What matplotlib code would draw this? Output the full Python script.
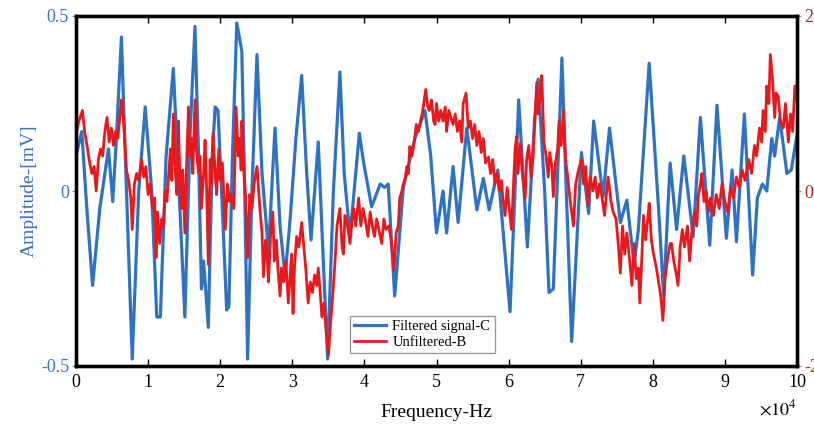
import numpy as np
import matplotlib
matplotlib.use("Agg")
import matplotlib.pyplot as plt

plt.rcParams['font.family'] = ['Liberation Serif', 'DejaVu Serif']
plt.rcParams['mathtext.fontset'] = 'stix'

# frequency in units of 1e4 Hz, amplitude in mV
blue_x = [0.0, 0.08, 0.15, 0.23, 0.33, 0.45, 0.51, 0.56, 0.63, 0.70, 0.78, 0.87, 0.96, 1.05, 1.12, 1.17,
          1.25, 1.35, 1.43, 1.51, 1.58, 1.65, 1.70, 1.74, 1.77, 1.835, 1.89, 1.93, 1.97, 2.04, 2.09, 2.12,
          2.17, 2.23, 2.30, 2.34, 2.38, 2.44, 2.51, 2.58, 2.67, 2.76, 2.83, 2.90, 2.97, 3.05, 3.13, 3.20,
          3.26, 3.36, 3.43, 3.49, 3.57, 3.66, 3.72, 3.80, 3.93, 3.99, 4.10, 4.22, 4.28, 4.33, 4.42, 4.54,
          4.70, 4.84, 4.92, 5.0, 5.09, 5.14, 5.23, 5.30, 5.42, 5.56, 5.65, 5.73, 5.85, 6.02, 6.14, 6.26,
          6.36, 6.41, 6.50, 6.56, 6.62, 6.74, 6.80, 6.875, 7.01, 7.11, 7.18, 7.31, 7.40, 7.55, 7.64, 7.74,
          7.80, 7.95, 8.08, 8.15, 8.24, 8.33, 8.43, 8.56, 8.66, 8.79, 8.89, 9.02, 9.10, 9.16, 9.27, 9.385,
          9.45, 9.52, 9.58, 9.65, 9.69, 9.76, 9.86, 9.92, 10.0]
blue_y = [0.10, 0.17, -0.05, -0.27, -0.05, 0.12, -0.03, 0.15, 0.44, 0.0, -0.48, 0.0, 0.24, 0.0, -0.36, -0.36,
          0.10, 0.35, 0.0, -0.36, 0.15, 0.47, 0.10, -0.28, -0.20, -0.39, 0.10, 0.24, 0.23, -0.10, -0.34, -0.33,
          0.10, 0.48, 0.40, 0.0, -0.48, 0.0, 0.39, 0.05, -0.17, 0.18, -0.10, -0.245, -0.08, 0.15, 0.33, 0.05,
          -0.14, 0.14, -0.20, -0.48, 0.0, 0.34, 0.05, -0.13, 0.165, 0.08, -0.045, 0.02, 0.01, 0.02, -0.30, 0.01,
          0.15, 0.23, 0.10, -0.12, 0.0, -0.12, 0.07, -0.09, 0.18, -0.054, 0.036, -0.054, 0.06, -0.345, 0.26, -0.16,
          0.20, 0.32, 0.0, -0.29, -0.28, 0.38, 0.0, -0.43, 0.11, -0.064, 0.20, -0.016, 0.18, -0.09, -0.026, -0.21,
          -0.11, 0.365, -0.05, -0.30, 0.08, -0.11, 0.10, -0.13, 0.21, -0.155, 0.245, -0.135, 0.06, -0.145, 0.22, -0.24,
          -0.02, 0.02, 0.0, 0.15, 0.10, 0.21, 0.05, 0.06, 0.16]

red_x = [0.00, 0.04, 0.09, 0.12, 0.16, 0.19, 0.22, 0.25, 0.28, 0.31, 0.34, 0.37, 0.40, 0.43, 0.46, 0.49,
         0.52, 0.55, 0.58, 0.63, 0.66, 0.70, 0.73, 0.76, 0.78, 0.81, 0.84, 0.87, 0.91, 0.94, 0.97, 1.00,
         1.03, 1.06, 1.09, 1.11, 1.13, 1.16, 1.19, 1.21, 1.24, 1.26, 1.29, 1.31, 1.33, 1.35, 1.38, 1.40,
         1.42, 1.44, 1.46, 1.48, 1.51, 1.53, 1.56, 1.58, 1.60, 1.62, 1.65, 1.67, 1.70, 1.72, 1.74, 1.77,
         1.79, 1.81, 1.835, 1.86, 1.88, 1.90, 1.93, 1.95, 1.98, 2.00, 2.03, 2.07, 2.10, 2.13, 2.15, 2.19,
         2.22, 2.25, 2.27, 2.29, 2.30, 2.33, 2.35, 2.38, 2.41, 2.44, 2.47, 2.51, 2.53, 2.55, 2.58, 2.60,
         2.63, 2.65, 2.67, 2.70, 2.73, 2.75, 2.78, 2.80, 2.83, 2.85, 2.88, 2.91, 2.945, 2.97, 2.99, 3.01,
         3.03, 3.06, 3.09, 3.13, 3.16, 3.19, 3.22, 3.25, 3.28, 3.31, 3.34, 3.36, 3.39, 3.41, 3.44, 3.47,
         3.50, 3.53, 3.56, 3.59, 3.62, 3.66, 3.69, 3.71, 3.73, 3.76, 3.80, 3.83, 3.85, 3.88, 3.92, 3.95,
         3.98, 4.01, 4.05, 4.08, 4.11, 4.14, 4.17, 4.20, 4.24, 4.27, 4.30, 4.34, 4.37, 4.41, 4.44, 4.47,
         4.49, 4.52, 4.54, 4.57, 4.59, 4.61, 4.63, 4.66, 4.69, 4.72, 4.75, 4.78, 4.81, 4.85, 4.88, 4.90,
         4.93, 4.96, 4.98, 5.00, 5.03, 5.06, 5.09, 5.12, 5.14, 5.17, 5.20, 5.23, 5.26, 5.29, 5.32, 5.35,
         5.37, 5.41, 5.44, 5.47, 5.50, 5.53, 5.56, 5.59, 5.62, 5.65, 5.68, 5.72, 5.75, 5.78, 5.81, 5.84,
         5.87, 5.90, 5.92, 5.95, 5.98, 6.01, 6.04, 6.06, 6.09, 6.11, 6.13, 6.16, 6.19, 6.23, 6.25, 6.28,
         6.31, 6.34, 6.37, 6.39, 6.41, 6.44, 6.46, 6.49, 6.52, 6.55, 6.57, 6.60, 6.62, 6.65, 6.68, 6.70,
         6.73, 6.76, 6.79, 6.82, 6.85, 6.90, 6.93, 6.97, 7.01, 7.04, 7.07, 7.10, 7.13, 7.17, 7.20, 7.23,
         7.26, 7.29, 7.33, 7.36, 7.38, 7.42, 7.45, 7.49, 7.52, 7.55, 7.58, 7.61, 7.64, 7.67, 7.71, 7.74,
         7.77, 7.80, 7.82, 7.85, 7.87, 7.90, 7.93, 7.95, 7.98, 8.01, 8.05, 8.08, 8.11, 8.14, 8.17, 8.20,
         8.24, 8.26, 8.29, 8.32, 8.35, 8.38, 8.41, 8.44, 8.48, 8.51, 8.54, 8.58, 8.61, 8.63, 8.66, 8.68,
         8.71, 8.74, 8.77, 8.80, 8.84, 8.88, 8.92, 8.96, 9.00, 9.04, 9.08, 9.12, 9.16, 9.20, 9.24, 9.28,
         9.33, 9.37, 9.41, 9.44, 9.48, 9.51, 9.53, 9.56, 9.58, 9.61, 9.63, 9.66, 9.69, 9.71, 9.74, 9.77,
         9.81, 9.84, 9.88, 9.91, 9.94, 9.97, 10.00]
red_y = [0.16, 0.20, 0.23, 0.17, 0.12, 0.08, 0.05, 0.07, 0.00, 0.09, 0.12, 0.10, 0.17, 0.21, 0.14, 0.18,
         0.13, 0.17, 0.15, 0.26, 0.20, 0.06, 0.03, -0.02, -0.11, 0.02, 0.05, 0.03, 0.09, 0.04, 0.07, -0.01,
         0.02, -0.05, -0.02, -0.19, -0.06, -0.15, -0.08, -0.10, 0.00, -0.03, 0.06, 0.12, 0.03, 0.22, 0.05, -0.01,
         0.20, 0.04, -0.05, 0.06, -0.12, 0.05, 0.24, 0.10, 0.15, 0.05, 0.26, 0.12, 0.05, 0.10, -0.05, 0.05,
         0.145, 0.02, -0.21, 0.09, 0.02, 0.165, 0.05, -0.01, 0.12, 0.03, 0.08, -0.11, 0.02, -0.03, -0.01, -0.05,
         0.24, 0.10, 0.15, 0.06, 0.20, 0.05, -0.01, -0.19, -0.01, -0.05, 0.02, 0.07, 0.01, -0.05, -0.12, -0.245,
         -0.14, -0.18, -0.26, -0.12, -0.06, -0.20, -0.14, -0.22, -0.30, -0.22, -0.26, -0.20, -0.32, -0.24, -0.18, -0.35,
         -0.22, -0.13, -0.16, -0.09, -0.16, -0.23, -0.32, -0.26, -0.29, -0.24, -0.27, -0.22, -0.30, -0.36, -0.32, -0.40,
         -0.47, -0.38, -0.30, -0.21, -0.10, -0.05, -0.16, -0.18, -0.07, -0.09, -0.15, -0.08, -0.05, -0.10, -0.02, -0.10,
         -0.05, -0.08, -0.13, -0.06, -0.10, -0.13, -0.08, -0.11, -0.15, -0.08, -0.11, -0.10, -0.14, -0.226, -0.12, -0.10,
         -0.02, 0.00, 0.02, 0.04, 0.07, 0.05, 0.127, 0.10, 0.14, 0.19, 0.17, 0.20, 0.23, 0.29, 0.24, 0.23,
         0.26, 0.20, 0.19, 0.25, 0.20, 0.23, 0.20, 0.24, 0.17, 0.23, 0.21, 0.19, 0.22, 0.17, 0.20, 0.14,
         0.25, 0.28, 0.18, 0.20, 0.15, 0.19, 0.13, 0.17, 0.11, 0.15, 0.08, 0.097, 0.05, 0.09, 0.02, 0.05,
         0.00, 0.03, -0.02, -0.07, 0.01, -0.05, -0.11, -0.02, 0.12, 0.155, 0.05, 0.136, 0.05, -0.02, 0.09, 0.13,
         0.04, 0.10, 0.23, 0.31, 0.22, 0.27, 0.33, 0.14, 0.10, 0.04, 0.11, 0.07, -0.016, 0.08, 0.12, 0.20,
         0.13, 0.23, 0.09, 0.04, -0.02, -0.10, 0.02, 0.06, 0.09, 0.02, 0.07, -0.04, 0.04, 0.00, 0.04, -0.02,
         0.02, -0.01, -0.07, 0.00, 0.04, -0.03, -0.06, -0.08, -0.15, -0.235, -0.10, -0.18, -0.12, -0.18, -0.27, -0.15,
         -0.25, -0.22, -0.32, -0.18, -0.07, -0.14, -0.08, -0.035, -0.14, -0.18, -0.22, -0.26, -0.30, -0.37, -0.25, -0.20,
         -0.15, -0.15, -0.20, -0.23, -0.27, -0.16, -0.11, -0.16, -0.10, -0.20, -0.12, -0.06, -0.10, -0.016, 0.02, 0.05,
         -0.03, 0.00, -0.06, -0.02, -0.07, -0.01, -0.05, 0.02, -0.03, -0.06, 0.01, -0.02, 0.04, 0.01, 0.06, 0.03,
         0.09, 0.05, 0.13, 0.10, 0.18, 0.14, 0.23, 0.17, 0.30, 0.25, 0.39, 0.32, 0.21, 0.28, 0.27, 0.20,
         0.18, 0.25, 0.14, 0.22, 0.17, 0.30, 0.26]

blue_c = '#2f73c0'
red_c = '#e8191c'
left_lbl_c = '#3a6fc4'
right_lbl_c = '#9b2d1f'

fig = plt.figure(figsize=(8.14, 4.30), dpi=100)
ax = fig.add_axes([76 / 814, 1 - 366 / 430, 721 / 814, 350 / 430])

ax.plot(blue_x, blue_y, color=blue_c, lw=2.3, label='Filtered signal-C', zorder=2,
        solid_joinstyle='round')
ax.plot(red_x, red_y, color=red_c, lw=2.0, label='Unfiltered-B', zorder=3)

ax.set_xlim(0, 10)
ax.set_ylim(-0.5, 0.5)
ax.set_xticks(range(0, 11))
ax.set_yticks([-0.5, 0, 0.5])
ax.set_yticklabels(['-0.5', '0', '0.5'])
ax.tick_params(axis='x', direction='in', top=True, length=5, width=1, labelsize=13, pad=6)
ax.tick_params(axis='y', direction='out', length=3, width=0.8, color='#888888',
               labelsize=13, labelcolor=left_lbl_c, pad=2)
for s in ax.spines.values():
    s.set_linewidth(2.4)

ax2 = ax.twinx()
ax2.set_ylim(-2, 2)
ax2.set_yticks([-2, 0, 2])
ax2.set_yticklabels(['-2', '0', '2'])
ax2.tick_params(axis='y', direction='out', length=3, width=0.8, color='#888888',
                labelsize=13, labelcolor=right_lbl_c, pad=2)
for s in ax2.spines.values():
    s.set_linewidth(2.4)

ax.set_xlabel('Frequency-Hz', fontsize=14, labelpad=9)
ax.set_ylabel('Amplitude-[mV]', fontsize=14, color=left_lbl_c, labelpad=2)
ax.text(1.0, -0.095, r'$\times10^{4}$', transform=ax.transAxes, ha='right', va='top', fontsize=13)

leg = ax.legend(loc='lower left', bbox_to_anchor=((350 - 76) / 721, (366 - 353) / 350),
                borderaxespad=0, fontsize=10.5, handlelength=2.2, handletextpad=0.4,
                borderpad=0.3, labelspacing=0.15, fancybox=False, framealpha=1)
leg.get_frame().set_edgecolor('#999999')
leg.get_frame().set_linewidth(1.0)

fig.savefig('out.png', dpi=100)
